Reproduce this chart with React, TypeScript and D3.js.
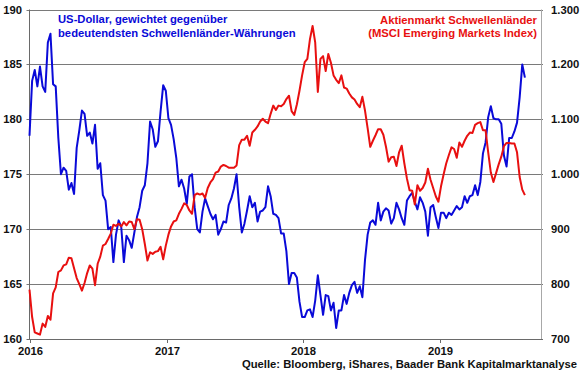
import React from "react";
import * as d3 from "d3";

// Weekly observations starting 2016-01-01
const startDate = "2016-01-01";

// US-Dollar vs. major EM currencies (left axis)
const usdValues = [
  178.5, 183.5, 184.5, 183.0, 184.8, 183.0, 182.5, 187.0, 187.8, 183.2,
  183.0, 178.3, 175.0, 175.6, 175.3, 173.6, 174.2, 173.2, 177.4, 179.0,
  180.8, 180.5, 178.5, 178.8, 177.8, 179.5, 175.5, 176.0, 173.1, 172.6,
  170.0, 170.2, 167.0, 169.5, 170.8, 170.2, 167.0, 169.4, 169.0, 168.3,
  169.7, 171.1, 172.0, 173.5, 174.0, 176.0, 179.8, 179.1, 177.5, 178.0,
  180.7, 183.1, 182.6, 180.1, 179.5, 178.2, 176.5, 173.9, 174.5, 173.7,
  172.3, 174.8, 175.0, 172.0, 170.0, 169.7, 171.6, 172.8, 172.1, 171.4,
  170.9, 171.3, 169.5, 170.0, 170.7, 170.6, 172.2, 172.8, 173.7, 175.0,
  172.0, 169.7, 170.5, 171.7, 173.0, 172.0, 172.4, 170.7, 171.6, 171.7,
  172.0, 173.9, 173.0, 171.4, 171.3, 171.0, 169.6, 169.6, 168.0, 165.0,
  166.0, 166.0, 165.6, 163.4, 162.0, 162.0, 162.6, 162.7, 162.0, 163.5,
  165.8, 164.0, 162.2, 164.0, 163.9, 162.6, 163.3, 161.0, 162.6, 162.6,
  164.0, 163.2, 164.2, 164.9, 165.2, 164.2, 164.8, 163.8, 167.2, 169.5,
  170.6, 170.8, 170.4, 172.4, 170.8, 171.6, 171.9, 171.7, 170.5, 171.0,
  172.4, 171.8, 171.0, 170.4, 172.6, 173.0, 173.3, 172.5, 171.8, 172.9,
  172.4, 171.6, 169.4, 172.0, 172.2, 171.1, 170.1, 171.5, 171.5, 171.0,
  171.5, 171.3, 171.7, 172.1, 171.8, 172.0, 173.0, 172.4, 173.0, 173.1,
  174.0, 173.1, 174.3, 176.9, 177.9, 180.2, 181.2, 180.1, 180.0, 180.0,
  179.6, 176.7, 175.7, 178.3, 178.3, 178.9, 179.7, 182.0, 185.0, 183.8,
];

// MSCI Emerging Markets Index (right axis)
const msciValues = [
  790, 740, 712, 710, 708, 728, 722, 742, 735, 783,
  794, 822, 825, 834, 836, 848, 847, 829, 811, 800,
  788, 802, 820, 834, 828, 798, 837, 850, 870, 873,
  882, 892, 908, 906, 910, 905, 913, 907, 914, 913,
  900, 918, 917, 900, 873, 843, 858, 855, 859, 860,
  868, 845, 870, 890, 905, 914, 916, 928, 937, 947,
  944, 934, 928, 962, 965, 963, 965, 957, 975, 985,
  991, 1003, 1005, 1014, 1017, 1015, 1012, 1012, 1012, 1016,
  1053, 1063, 1063, 1070, 1052, 1076, 1081, 1087, 1096, 1101,
  1096, 1093, 1110, 1125, 1117, 1125, 1124, 1128, 1137, 1143,
  1115, 1108, 1127, 1152, 1180, 1204, 1210, 1246, 1270, 1240,
  1150, 1210, 1215, 1188, 1219, 1203, 1180, 1172, 1166, 1180,
  1158, 1156, 1147, 1140, 1136, 1128, 1122, 1141, 1116, 1084,
  1050, 1061, 1071, 1082, 1082, 1072, 1050, 1023, 1031, 1032,
  1015, 1040, 1052, 1020, 992, 971, 970, 945, 980, 970,
  975, 985, 1010, 990, 975, 960, 950, 978, 1000, 1020,
  1035, 1049, 1046, 1030, 1058, 1050, 1061, 1070, 1076, 1075,
  1090, 1093, 1095, 1080, 1080, 1040, 1003, 986, 1002, 1018,
  1032, 1051, 1057, 1057, 1056, 1056, 1040, 995, 972, 962,
];

const leftTicks = [160, 165, 170, 175, 180, 185, 190];
const rightTicks = [700, 800, 900, 1000, 1100, 1200, 1300];
const yearTicks = ["2016", "2017", "2018", "2019"];

const usdLabel = ["US-Dollar, gewichtet gegenüber", "bedeutendsten Schwellenländer-Währungen"];
const msciLabel = ["Aktienmarkt Schwellenländer", "(MSCI Emerging Markets Index)"];
const sourceLabel = "Quelle: Bloomberg, iShares, Baader Bank Kapitalmarktanalyse";

const W = 580;
const H = 375;
const left = 29.5;
const right = 541;
const top = 9.5;
const bottom = 339;

const FONT = "Arial, 'Liberation Sans', sans-serif";
const FS = 11.25;
const BLUE = "#0a0ad8";
const RED = "#e81010";

export default function App() {
  const start = d3.timeParse("%Y-%m-%d")(startDate) as Date;
  const dates = usdValues.map((_, i) => d3.timeDay.offset(start, 7 * i));

  const x = d3
    .scaleTime()
    .domain([new Date(2016, 0, 1), new Date(2019, 8, 28)])
    .range([left, right]);
  const yL = d3.scaleLinear().domain([160, 190]).range([bottom, top]);
  const yR = d3.scaleLinear().domain([700, 1300]).range([bottom, top]);

  const usdLine = d3
    .line<number>()
    .x((_, i) => x(dates[i]))
    .y((d) => yL(d))
    .curve(d3.curveLinear);
  const msciLine = d3
    .line<number>()
    .x((_, i) => x(dates[i]))
    .y((d) => yR(d))
    .curve(d3.curveLinear);

  const fmtRight = (v: number) =>
    v >= 1000 ? `${Math.floor(v / 1000)}.${String(v % 1000).padStart(3, "0")}` : String(v);

  return (
    <div style={{ position: "fixed", left: 0, top: 0 }}>
      <svg width={W} height={H} style={{ display: "block", background: "#fff" }}>
        {/* gridlines */}
        {leftTicks.slice(1).map((t) => (
          <line
            key={"g" + t}
            x1={left - 3}
            x2={right + 2}
            y1={Math.round(yL(t)) + 0.5}
            y2={Math.round(yL(t)) + 0.5}
            stroke="#7a7a7a"
            strokeWidth={1}
          />
        ))}
        {/* right axis */}
        <line x1={right + 0.5} x2={right + 0.5} y1={top} y2={bottom} stroke="#a8a8a8" strokeWidth={1} />
        {/* left axis */}
        <line x1={left} x2={left} y1={top} y2={bottom + 0.5} stroke="#6a6a6a" strokeWidth={1} />
        {/* bottom axis */}
        <line x1={left - 3} x2={right + 2} y1={bottom + 0.5} y2={bottom + 0.5} stroke="#6a6a6a" strokeWidth={1} />
        {yearTicks.map((yr) => {
          const xx = Math.round(x(new Date(+yr, 0, 1))) + 0.5;
          return (
            <g key={yr}>
              <line x1={xx} x2={xx} y1={bottom} y2={bottom + 4} stroke="#6a6a6a" />
              <text
                x={xx}
                y={355}
                textAnchor="middle"
                fontFamily={FONT}
                fontWeight="bold"
                fontSize={FS}
                fill="#111"
              >
                {yr}
              </text>
            </g>
          );
        })}
        {/* left labels */}
        {leftTicks.map((t) => (
          <text
            key={"l" + t}
            x={22}
            y={yL(t) + 4}
            textAnchor="end"
            fontFamily={FONT}
            fontWeight="bold"
            fontSize={FS}
            fill="#111"
          >
            {t}
          </text>
        ))}
        {/* right labels */}
        {rightTicks.map((t) => (
          <text
            key={"r" + t}
            x={551}
            y={yR(t) + 4}
            textAnchor="start"
            fontFamily={FONT}
            fontWeight="bold"
            fontSize={FS}
            fill="#111"
          >
            {fmtRight(t)}
          </text>
        ))}
        {/* series */}
        <path d={usdLine(usdValues) || ""} fill="none" stroke={BLUE} strokeWidth={2} strokeLinejoin="round" />
        <path d={msciLine(msciValues) || ""} fill="none" stroke={RED} strokeWidth={2} strokeLinejoin="round" />
        {/* legends */}
        {usdLabel.map((s, i) => (
          <text
            key={"u" + i}
            x={58}
            y={23 + i * 13.5}
            fontFamily={FONT}
            fontWeight="bold"
            fontSize={FS}
            fill={BLUE}
          >
            {s}
          </text>
        ))}
        {msciLabel.map((s, i) => (
          <text
            key={"m" + i}
            x={537}
            y={23.5 + i * 13.5}
            textAnchor="end"
            fontFamily={FONT}
            fontWeight="bold"
            fontSize={FS}
            fill={RED}
          >
            {s}
          </text>
        ))}
        <text
          x={577}
          y={367.5}
          textAnchor="end"
          fontFamily={FONT}
          fontWeight="bold"
          fontSize={FS}
          fill="#111"
        >
          {sourceLabel}
        </text>
      </svg>
    </div>
  );
}
